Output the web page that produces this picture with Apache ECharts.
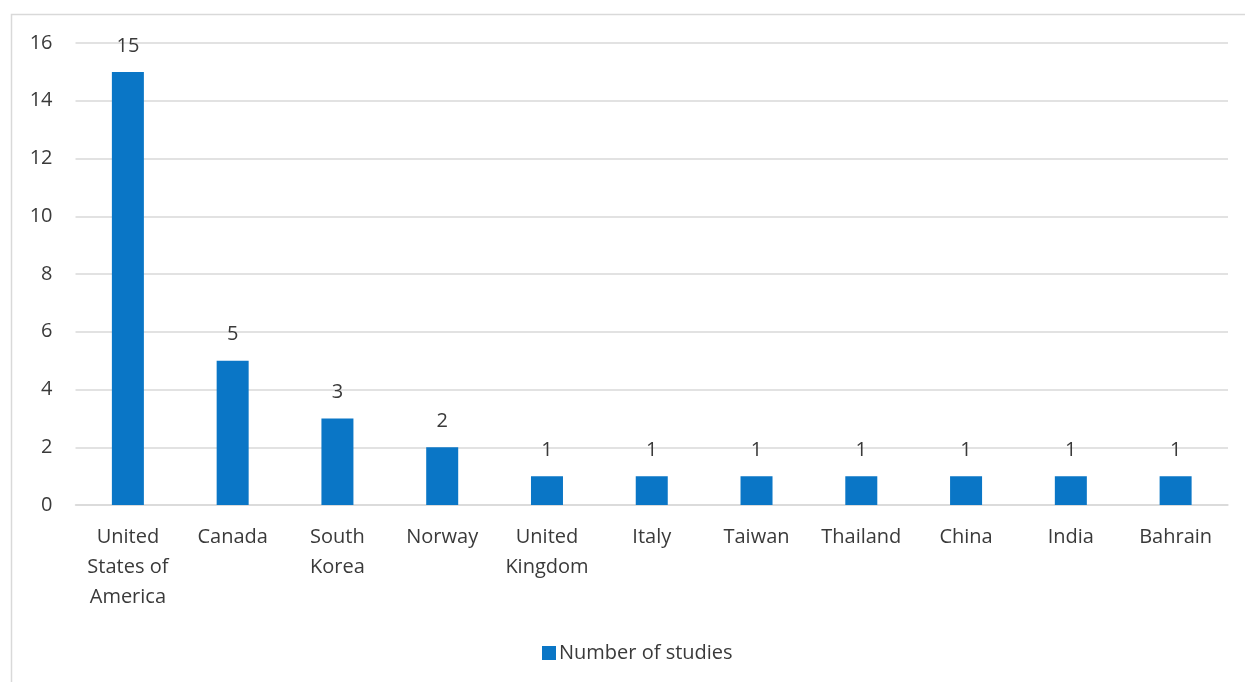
<!DOCTYPE html>
<html>
<head>
<meta charset="utf-8">
<style>
  html, body { margin: 0; padding: 0; background: #fff; }
  #chart { width: 1245px; height: 682px; }
</style>
<script src="https://cdn.jsdelivr.net/npm/echarts@6/dist/echarts.min.js"></script>
</head>
<body>
<div id="chart"></div>
<script>
// Countries where the studies were conducted
const categories = [
  'United\nStates of\nAmerica', 'Canada', 'South\nKorea', 'Norway', 'United\nKingdom',
  'Italy', 'Taiwan', 'Thailand', 'China', 'India', 'Bahrain'
];
const studyCounts = [15, 5, 3, 2, 1, 1, 1, 1, 1, 1, 1];
const seriesName = 'Number of studies';
const yTicks = { min: 0, max: 16, interval: 2 };

const textColor = '#3a3a3a';
const fontFamily = '"Open Sans", "DejaVu Sans", sans-serif';
const fontSize = 20;

const chart = echarts.init(document.getElementById('chart'), null, { renderer: 'canvas' });
chart.setOption({
  backgroundColor: '#ffffff',
  animation: false,
  textStyle: { fontFamily: fontFamily, color: textColor },
  graphic: [{
    type: 'rect',
    shape: { x: 11.5, y: 14.5, width: 1245, height: 680 },
    style: { fill: 'none', stroke: '#d9d9d9', lineWidth: 1.5 },
    silent: true,
    z: -1
  }],
  grid: { left: 75.5, right: 17, top: 43, bottom: 177, containLabel: false },
  legend: {
    data: [seriesName],
    left: 537,
    top: 638,
    itemWidth: 14,
    itemHeight: 14,
    itemGap: 5,
    icon: 'rect',
    textStyle: { fontSize: fontSize, color: textColor, fontFamily: fontFamily, padding: [0, 0, 0, -2] }
  },
  xAxis: {
    type: 'category',
    data: categories,
    axisLine: { show: true, lineStyle: { color: '#d9d9d9', width: 1.5 } },
    axisTick: { show: false },
    axisLabel: {
      interval: 0,
      margin: 17,
      fontSize: fontSize,
      lineHeight: 30,
      color: textColor,
      fontFamily: fontFamily
    }
  },
  yAxis: {
    type: 'value',
    min: yTicks.min,
    max: yTicks.max,
    interval: yTicks.interval,
    axisLine: { show: false },
    axisTick: { show: false },
    splitLine: { lineStyle: { color: '#d9d9d9', width: 1.5 } },
    axisLabel: { margin: 23, fontSize: fontSize, color: textColor, fontFamily: fontFamily }
  },
  series: [{
    name: seriesName,
    type: 'bar',
    data: studyCounts,
    barWidth: 32,
    itemStyle: { color: '#0A76C6' },
    label: {
      show: true,
      position: 'top',
      distance: 16,
      fontSize: fontSize,
      color: textColor,
      fontFamily: fontFamily
    }
  }]
});
</script>
</body>
</html>
